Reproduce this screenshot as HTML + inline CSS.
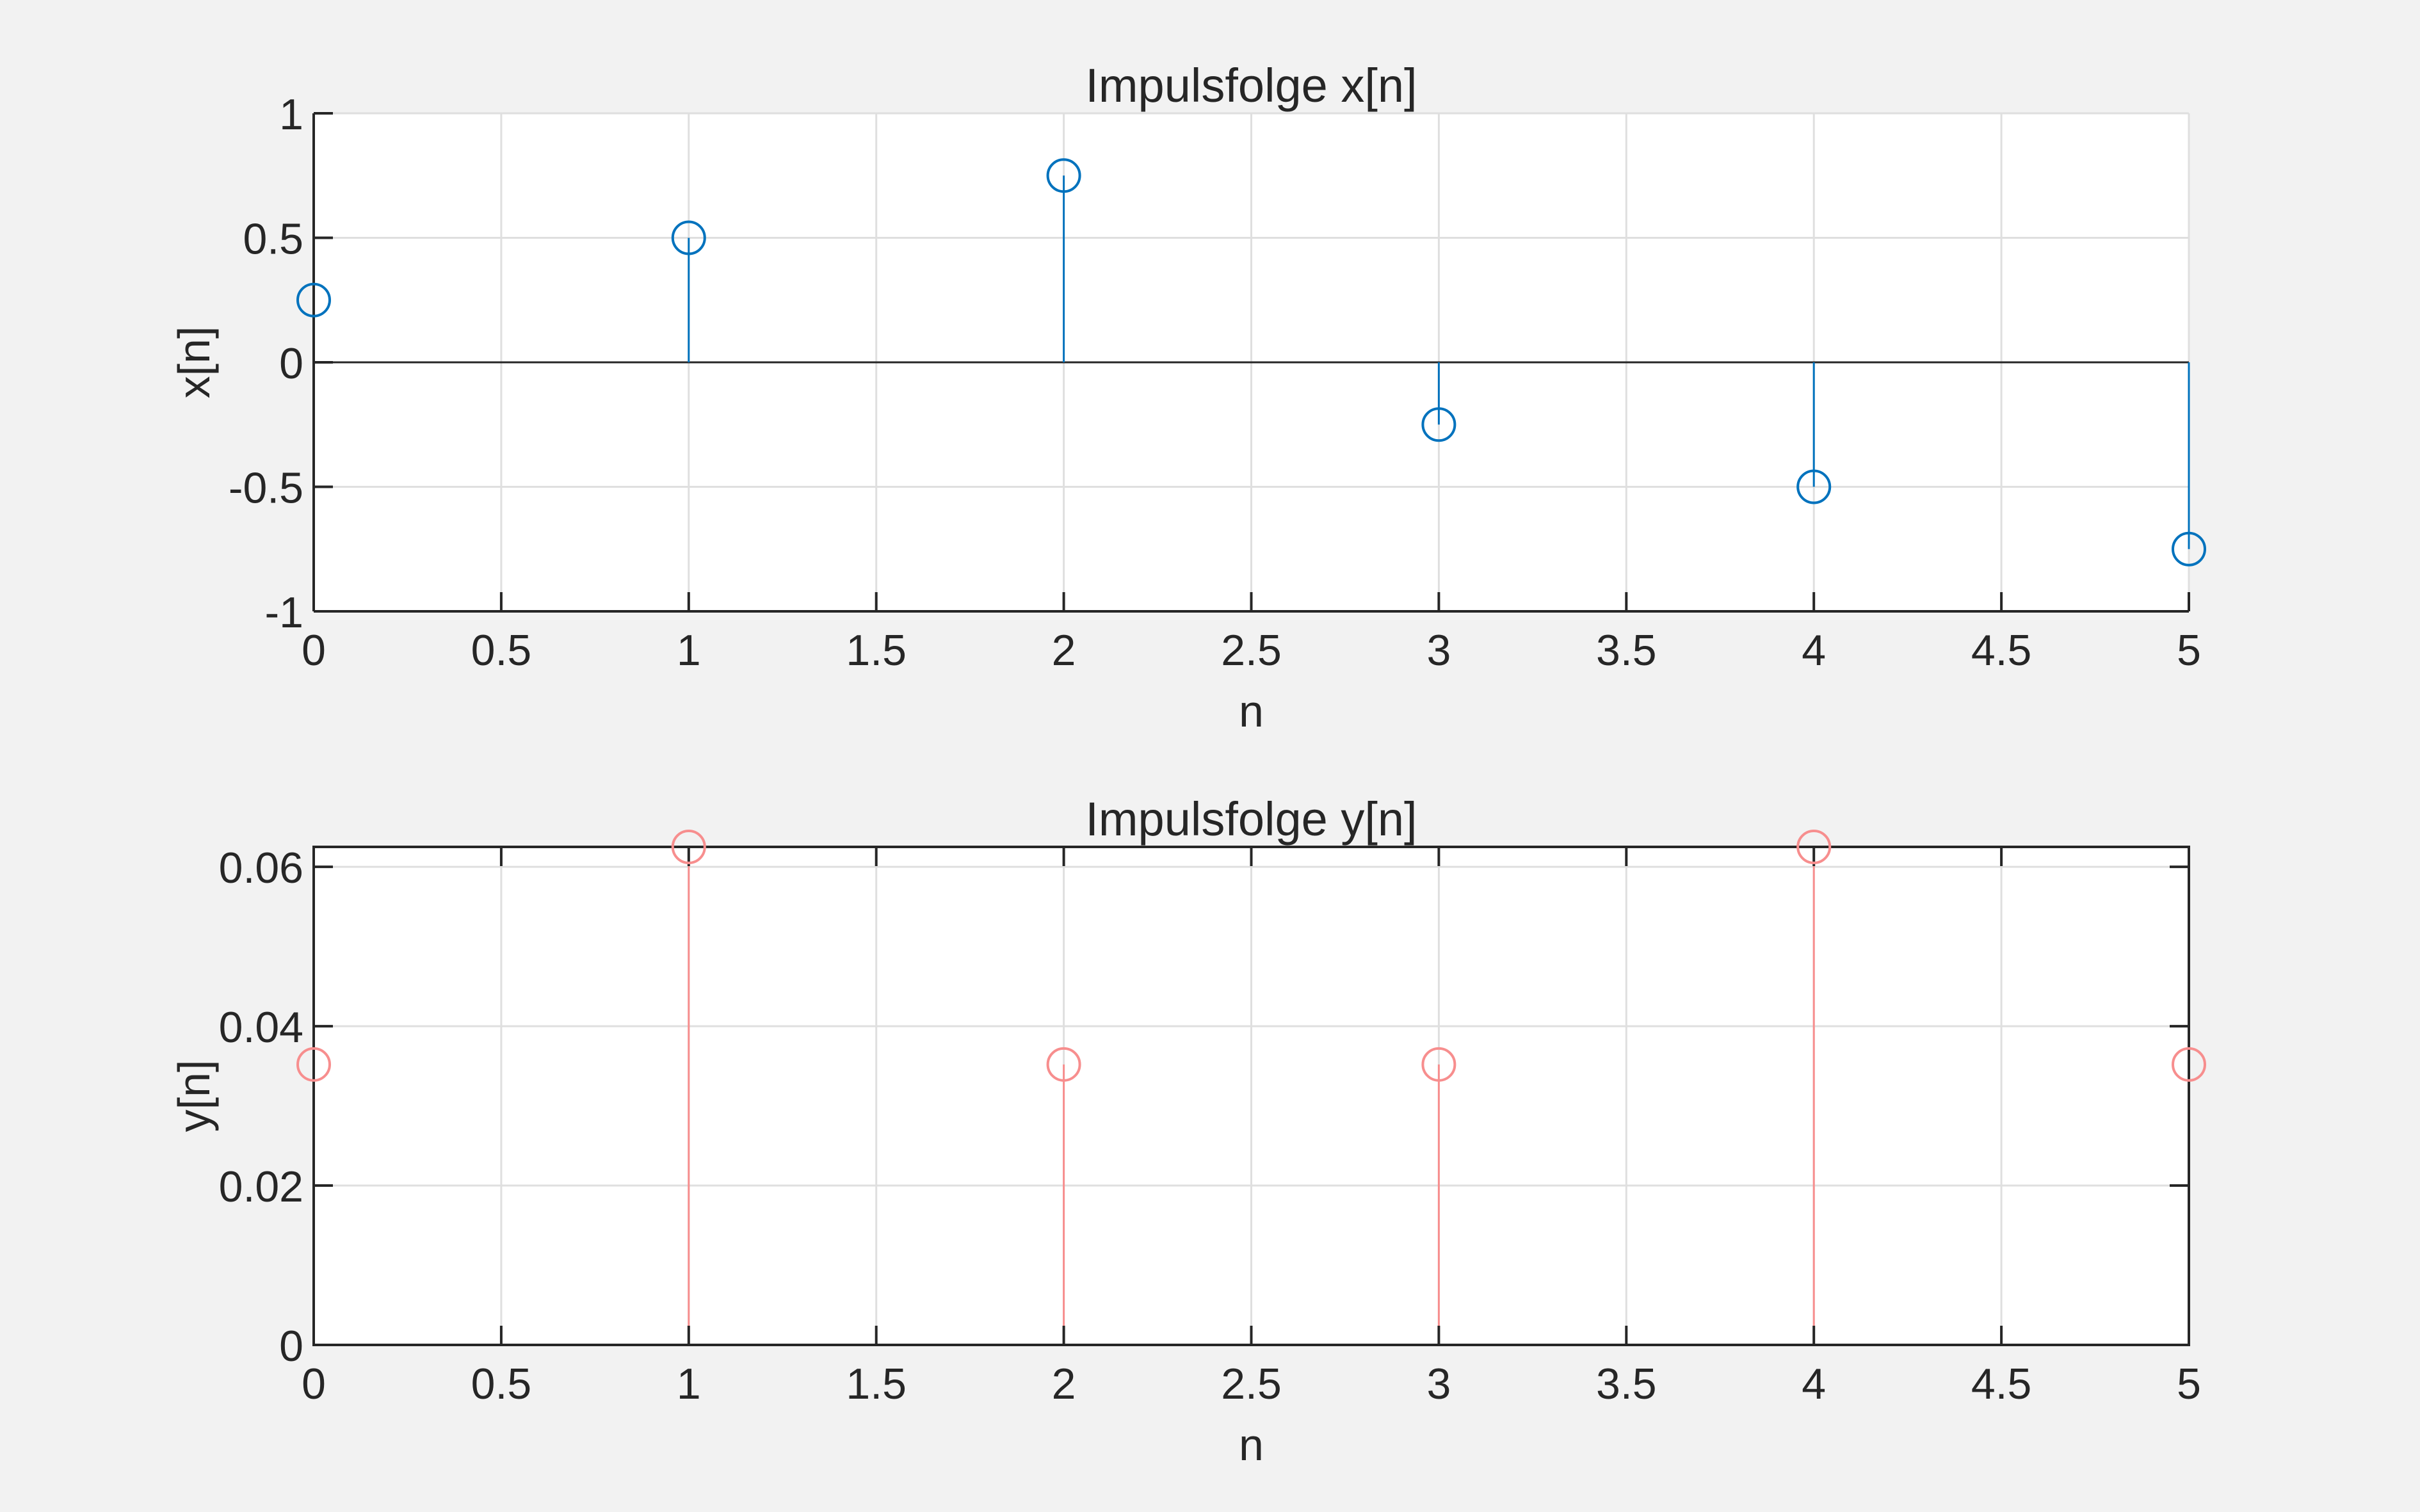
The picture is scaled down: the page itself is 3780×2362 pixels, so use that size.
<!DOCTYPE html>
<html><head><meta charset="utf-8"><style>
html,body{margin:0;padding:0;background:#f2f2f2}
svg{display:block}
text{font-family:"Liberation Sans",Arial,sans-serif;fill:#262626}
</style></head><body>
<svg id="fig" width="3780" height="2362" viewBox="0 0 3780 2362" xmlns="http://www.w3.org/2000/svg">
<rect width="3780" height="2362" fill="#f2f2f2"/>
</svg>
<script>
const nValues = [0,1,2,3,4,5];
const xSeries = [0.25,0.5,0.75,-0.25,-0.5,-0.75];
const ySeries = [0.0352,0.0625,0.0352,0.0352,0.0625,0.0352];
const xTicks = [0,0.5,1,1.5,2,2.5,3,3.5,4,4.5,5];
const xTickLabels = ["0","0.5","1","1.5","2","2.5","3","3.5","4","4.5","5"];
const yTicksTop = [-1,-0.5,0,0.5,1];
const yTickLabelsTop = ["-1","-0.5","0","0.5","1"];
const yTicksBot = [0,0.02,0.04,0.06];
const yTickLabelsBot = ["0","0.02","0.04","0.06"];

const NS="http://www.w3.org/2000/svg";
const svg=document.getElementById('fig');
function mk(tag,attrs,parent){const e=document.createElementNS(NS,tag);for(const k in attrs)e.setAttribute(k,attrs[k]);(parent||svg).appendChild(e);return e;}

function drawAxes(cfg){
  const {L,R,T,B,xmin,xmax,ymin,ymax,yTicks,yLabels,vals,color,title,ylabel,name,zeroLine,box}=cfg;
  const g=mk('g',{});
  
  
  const sx=v=>L+(v-xmin)/(xmax-xmin)*(R-L);
  const sy=v=>B-(v-ymin)/(ymax-ymin)*(B-T);
  mk('rect',{x:L,y:T,width:R-L,height:B-T,fill:'#fff'},g);
  xTicks.forEach(t=>{const l=mk('line',{x1:sx(t),x2:sx(t),y1:T,y2:B,stroke:'#dfdfdf','stroke-width':3},g);
    
    });
  yTicks.forEach(t=>{const l=mk('line',{x1:L,x2:R,y1:sy(t),y2:sy(t),stroke:'#dfdfdf','stroke-width':3},g);
    
    });
  if(zeroLine){const z=mk('line',{x1:L,x2:R,y1:sy(0),y2:sy(0),stroke:'#262626','stroke-width':3},g);
    
    }
  vals.forEach((v,i)=>{
    const x=sx(nValues[i]);
    const s=mk('line',{x1:x,x2:x,y1:sy(0),y2:sy(v),stroke:color,'stroke-width':3},g);
    
    
  });
  if(box){
    mk('rect',{x:L,y:T,width:R-L,height:B-T,fill:'none',stroke:'#262626','stroke-width':4},g);
  } else {
    mk('line',{x1:L,x2:R,y1:B,y2:B,stroke:'#262626','stroke-width':4},g);
    mk('line',{x1:L,x2:L,y1:T,y2:B,stroke:'#262626','stroke-width':4},g);
  }
  xTicks.forEach((t,i)=>{
    mk('line',{x1:sx(t),x2:sx(t),y1:B,y2:B-30,stroke:'#262626','stroke-width':4},g);
    if(box) mk('line',{x1:sx(t),x2:sx(t),y1:T,y2:T+30,stroke:'#262626','stroke-width':4},g);
    const tx=mk('text',{x:sx(t),y:B+84,'font-size':68,'text-anchor':'middle'},g);
    tx.textContent=xTickLabels[i];
    
    
  });
  yTicks.forEach((t,i)=>{
    mk('line',{x1:L,x2:L+30,y1:sy(t),y2:sy(t),stroke:'#262626','stroke-width':4},g);
    if(box) mk('line',{x1:R,x2:R-30,y1:sy(t),y2:sy(t),stroke:'#262626','stroke-width':4},g);
    const tx=mk('text',{x:L-16,y:sy(t)+25,'font-size':68,'text-anchor':'end'},g);
    tx.textContent=yLabels[i];
    
    
  });
  vals.forEach((v,i)=>{
    const c=mk('circle',{cx:sx(nValues[i]),cy:sy(v),r:25,fill:'none',stroke:color,'stroke-width':4},g);
    
    
  });
  const tt=mk('text',{x:(L+R)/2,y:T-18,'font-size':74,'text-anchor':'middle'},g);
  tt.textContent=title;
  
  
  const xl=mk('text',{x:(L+R)/2,y:B+180,'font-size':70,'text-anchor':'middle'},g);
  xl.textContent='n';
  
  
  const yl=mk('text',{x:0,y:0,'font-size':70,'text-anchor':'middle',transform:`translate(${L-163},${(T+B)/2}) rotate(-90)`},g);
  yl.textContent=ylabel;
  
  
}
drawAxes({L:490,R:3419,T:177,B:955,xmin:0,xmax:5,ymin:-1,ymax:1,yTicks:yTicksTop,yLabels:yTickLabelsTop,vals:xSeries,color:'#0072bd',title:'Impulsfolge x[n]',ylabel:'x[n]',name:'plot-x',zeroLine:true,box:false});
drawAxes({L:490,R:3419,T:1323,B:2101,xmin:0,xmax:5,ymin:0,ymax:0.0625,yTicks:yTicksBot,yLabels:yTickLabelsBot,vals:ySeries,color:'#f78e8e',title:'Impulsfolge y[n]',ylabel:'y[n]',name:'plot-y',zeroLine:false,box:true});
</script>
</body></html>
